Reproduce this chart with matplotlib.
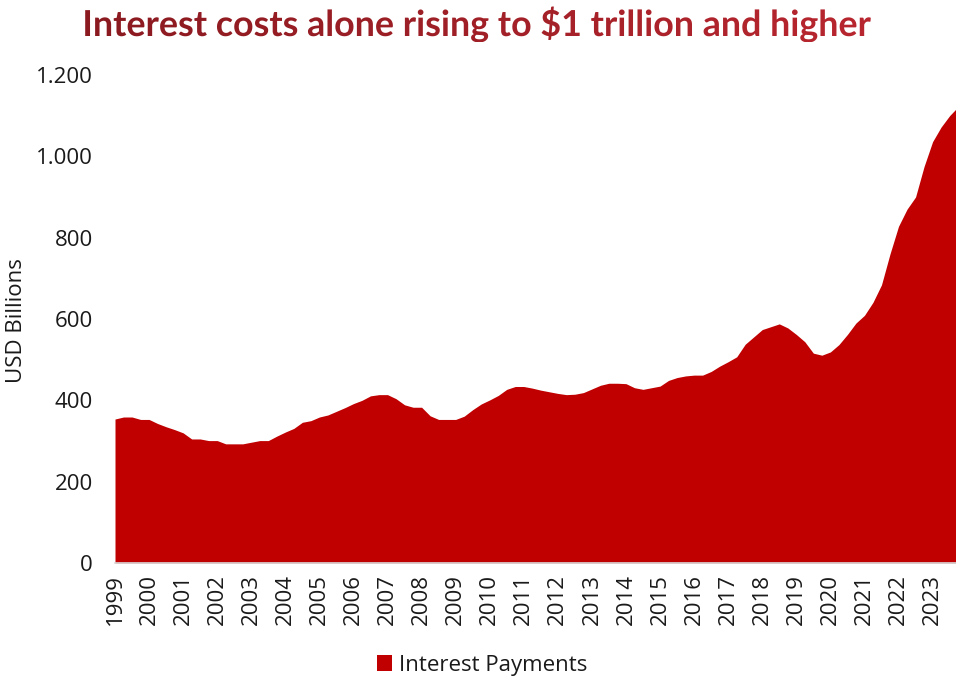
import matplotlib
matplotlib.use("Agg")
import matplotlib.pyplot as plt
import numpy as np
from matplotlib.colors import LinearSegmentedColormap
from matplotlib.font_manager import FontProperties
from matplotlib.patches import PathPatch, Patch
from matplotlib.textpath import TextPath
from matplotlib.ticker import FuncFormatter

# ---- palette ----
FILL = "#c00000"
INK = "#1a1a1a"
AXIS = "#d9d9d9"
TITLE_LEFT = "#8a1a20"
TITLE_RIGHT = "#b8262f"

TITLE = "Interest costs alone rising to $1 trillion and higher"
SERIES = "Interest Payments"
YLABEL = "USD Billions"

# quarterly interest payments, USD bn, 1999Q1 .. 2023Q4
years = list(range(1999, 2024))
interest = [
    354, 359, 359, 353,   # 1999
    353, 343, 335, 328,   # 2000
    320, 305, 305, 301,   # 2001
    301, 293, 293, 293,   # 2002
    297, 301, 301, 312,   # 2003
    322, 331, 346, 350,   # 2004
    359, 364, 373, 382,   # 2005
    392, 400, 411, 414,   # 2006
    414, 404, 389, 383,   # 2007
    383, 362, 353, 353,   # 2008
    353, 361, 377, 391,   # 2009
    401, 412, 427, 434,   # 2010
    434, 430, 425, 421,   # 2011
    417, 414, 415, 419,   # 2012
    428, 437, 442, 442,   # 2013
    441, 431, 427, 431,   # 2014
    435, 449, 456, 460,   # 2015
    462, 462, 471, 484,   # 2016
    495, 507, 538, 556,   # 2017
    574, 581, 588, 578,   # 2018
    562, 544, 516, 511,   # 2019
    519, 537, 562, 590,   # 2020
    609, 641, 684, 760,   # 2021
    828, 870, 900, 975,   # 2022
    1036, 1072, 1100, 1122,  # 2023
]

plt.rcParams["font.family"] = ["Open Sans", "DejaVu Sans"]

W, H = 956, 679
fig = plt.figure(figsize=(W / 100, H / 100), dpi=100)
ax = fig.add_axes([115 / W, 1 - 563 / H, 1 - 115 / W, (563 - 75) / H])

x = np.arange(len(interest))
ax.fill_between(x, interest, 0, color=FILL, linewidth=0)
ax.set_xlim(0, 98.75)
ax.set_ylim(0, 1200)

ax.set_yticks(range(0, 1201, 200))
ax.yaxis.set_major_formatter(
    FuncFormatter(lambda v, _: f"{int(v):,}".replace(",", "."))
)
ax.set_xticks(np.arange(len(years)) * 4)
ax.set_xticklabels([str(y) for y in years], rotation=90, va="top", ha="center")
ax.tick_params(axis="both", length=0, labelsize=16, colors=INK)
ax.tick_params(axis="y", pad=16)
ax.tick_params(axis="x", pad=8)
fig.text(17 / W, 1 - 321 / H, YLABEL, rotation=90, fontsize=16, color=INK,
         ha="center", va="center")

for side in ("top", "right", "left"):
    ax.spines[side].set_visible(False)
ax.spines["bottom"].set_color(AXIS)
ax.spines["bottom"].set_linewidth(1.2)

fig.legend(
    handles=[Patch(facecolor=FILL, edgecolor="none")],
    labels=[SERIES],
    loc="center",
    bbox_to_anchor=(482 / W, 1 - 665 / H),
    frameon=False,
    fontsize=16,
    handlelength=0.7,
    handleheight=0.7,
    handletextpad=0.3,
    labelcolor=INK,
)

# title drawn as a path filled with a left-to-right red gradient
tax = fig.add_axes([0, 0, 1, 1], zorder=5)
tax.axis("off")
tp = TextPath((0, 0), TITLE, size=35.8, prop=FontProperties(family="Lato", weight="bold"))
bb = tp.get_extents()
path = tp.transformed(
    matplotlib.transforms.Affine2D().translate(478 - (bb.x0 + bb.x1) / 2, H - 36)
)
patch = PathPatch(path, facecolor="none", edgecolor="none")
tax.add_patch(patch)
pb = path.get_extents()
grad = LinearSegmentedColormap.from_list("title", [TITLE_LEFT, TITLE_RIGHT])
img = tax.imshow(
    np.linspace(0, 1, 256)[None, :],
    cmap=grad,
    extent=(pb.x0, pb.x1, pb.y0, pb.y1),
    aspect="auto",
    interpolation="bilinear",
)
img.set_clip_path(patch)
tax.set_xlim(0, W)
tax.set_ylim(0, H)

fig.savefig("out.png", dpi=100, facecolor="white")
plt.close(fig)
